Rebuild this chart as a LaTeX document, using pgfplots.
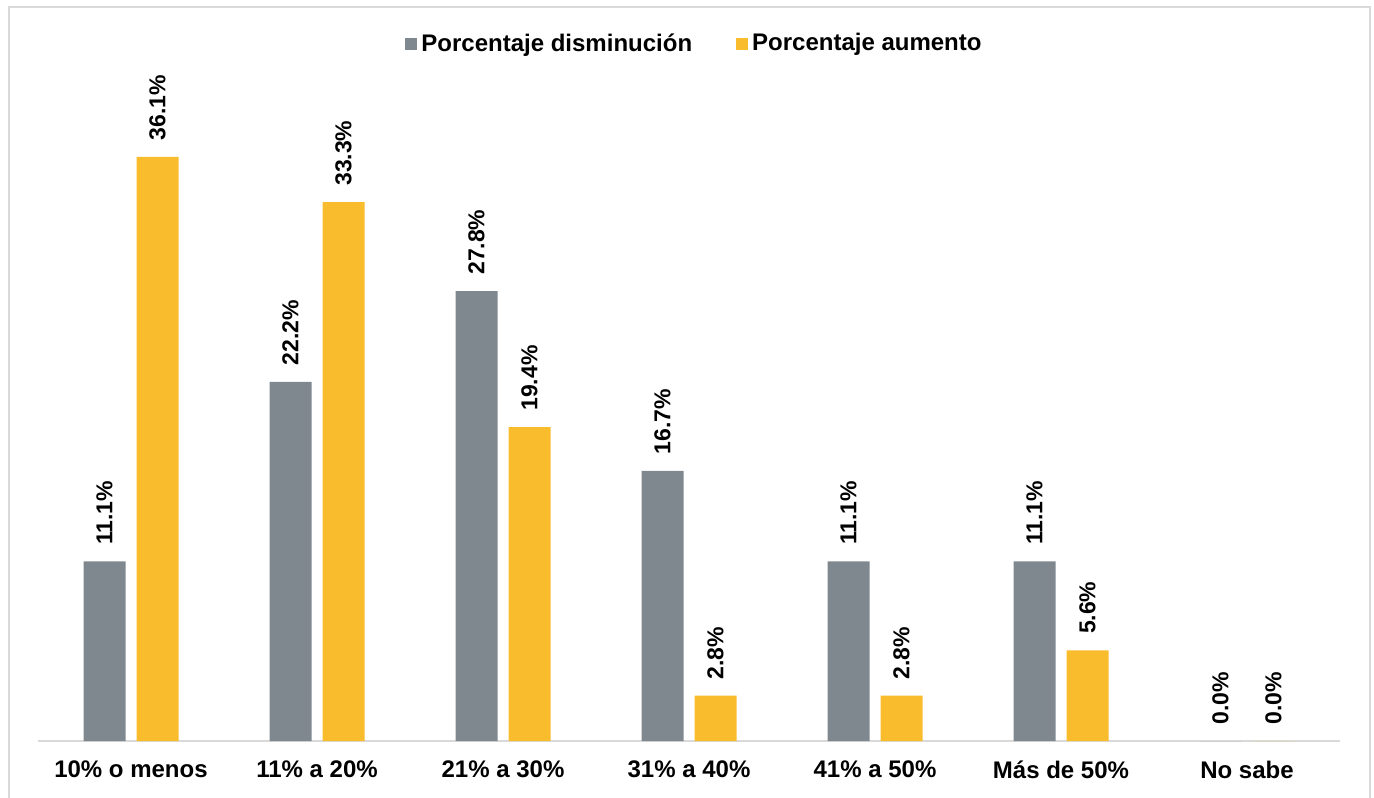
\documentclass[border=0pt]{standalone}
\usepackage{pgfplots}
\pgfplotsset{compat=1.18}
\usepackage{fontspec}
\setmainfont{Liberation Sans}
\definecolor{cgray}{HTML}{7F888E}
\definecolor{cyel}{HTML}{F9BC2C}
\definecolor{cframe}{HTML}{D9D9D9}
\begin{document}
\begin{tikzpicture}[x=1pt,y=1pt]
\useasboundingbox (0,0) rectangle (687,398.5);
\draw[cframe, line width=1pt] (4.5,-5) rectangle (685,395);
\begin{axis}[
  at={(19pt,28pt)}, anchor=south west,
  scale only axis, width=651pt, height=360.5pt,
  xmin=-0.5, xmax=6.5, ymin=0, ymax=44.56,
  ybar=5.5pt, bar width=21pt,
  hide y axis,
  axis x line=bottom,
  x axis line style={cframe, line width=0.75pt, -},
  xtick={0,...,6},
  xticklabels={10\% o menos, 11\% a 20\%, 21\% a 30\%, 31\% a 40\%, 41\% a 50\%, Más de 50\%, No sabe},
  major tick length=0pt,
  xticklabel style={font=\bfseries\fontsize{12}{14}\selectfont, yshift=-6.5pt},
  /pgf/number format/assume math mode=true,
  point meta=y,
  nodes near coords={\pgfmathprintnumber[fixed, fixed zerofill, precision=1]{\pgfplotspointmeta}\%},
  every node near coord/.append style={rotate=90, anchor=west, font=\bfseries\fontsize{11.5}{13}\selectfont, inner xsep=8pt, inner ysep=0pt, text=black},
  clip=false,
  legend style={at={(0.505,0.967)}, anchor=center, draw=none, fill=none, legend columns=2,
    font=\bfseries\fontsize{12}{14}\selectfont,
    /tikz/every even column/.append style={column sep=20pt}},
  legend image code/.code={\fill[#1] (0pt,-3pt) rectangle (6pt,3pt);},
]
\addplot[fill=cgray, draw=none] coordinates {(0,11.1) (1,22.2) (2,27.8) (3,16.7) (4,11.1) (5,11.1) (6,0)};
\addplot[fill=cyel, draw=none] coordinates {(0,36.1) (1,33.3) (2,19.4) (3,2.8) (4,2.8) (5,5.6) (6,0)};
\legend{Porcentaje disminución, Porcentaje aumento}
\end{axis}
\end{tikzpicture}
\end{document}
